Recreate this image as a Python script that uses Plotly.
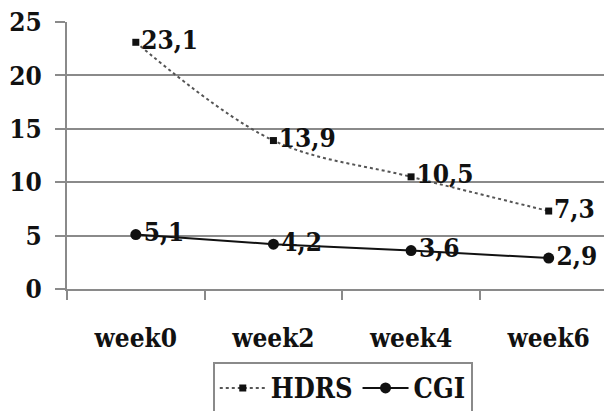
import plotly.graph_objects as go

weeks = ["week0", "week2", "week4", "week6"]
hdrs = [23.1, 13.9, 10.5, 7.3]
cgi = [5.1, 4.2, 3.6, 2.9]
y_ticks = [0, 5, 10, 15, 20, 25]

def fmt(vals):
    return [f"{v:.1f}".replace(".", ",") for v in vals]

FAM = "DejaVu Serif Condensed"
FONT = dict(family=FAM, size=26, color="#111111", weight="bold")
GRID = "#8a8a8a"

fig = go.Figure()
fig.add_trace(go.Scatter(
    x=weeks, y=hdrs, name="HDRS", mode="lines+markers+text",
    text=fmt(hdrs), textposition="middle right", textfont=FONT,
    line=dict(color="#555555", width=2, dash="dot", shape="spline", smoothing=1.0),
    marker=dict(symbol="square", size=7, color="#111111"),
))
fig.add_trace(go.Scatter(
    x=weeks, y=cgi, name="CGI", mode="lines+markers+text",
    text=fmt(cgi), textposition="middle right", textfont=FONT,
    line=dict(color="#111111", width=2),
    marker=dict(symbol="circle", size=11, color="#111111"),
))

fig.update_layout(
    width=604, height=403,
    margin=dict(l=59, r=0, t=14, b=122, autoexpand=False),
    paper_bgcolor="white", plot_bgcolor="white",
    font=FONT,
    showlegend=True,
    legend=dict(
        orientation="h", x=0.506, xanchor="center", y=-0.273, yanchor="top",
        bordercolor=GRID, borderwidth=2, bgcolor="white",
        font=dict(family=FAM, size=27, color="#111111", weight="bold"),
        itemwidth=46, tracegroupgap=0,
    ),
    xaxis=dict(
        range=[-0.5, 3.46], showgrid=False, zeroline=False, automargin=False,
        showline=True, linecolor=GRID, linewidth=2,
        ticks="outside", tickson="boundaries", ticklen=9, tickwidth=2, tickcolor=GRID,
        ticklabelstandoff=25, tickfont=FONT,
    ),
    yaxis=dict(
        range=[0, 25], tickvals=y_ticks, ticklabeloverflow="allow",
        showgrid=True, gridcolor=GRID, gridwidth=2,
        zeroline=False, showline=True, linecolor=GRID, linewidth=2, automargin=False,
        ticks="outside", ticklen=10, tickwidth=2, tickcolor=GRID,
        ticklabelstandoff=8, tickfont=FONT,
    ),
)

fig.write_html("out.html")
